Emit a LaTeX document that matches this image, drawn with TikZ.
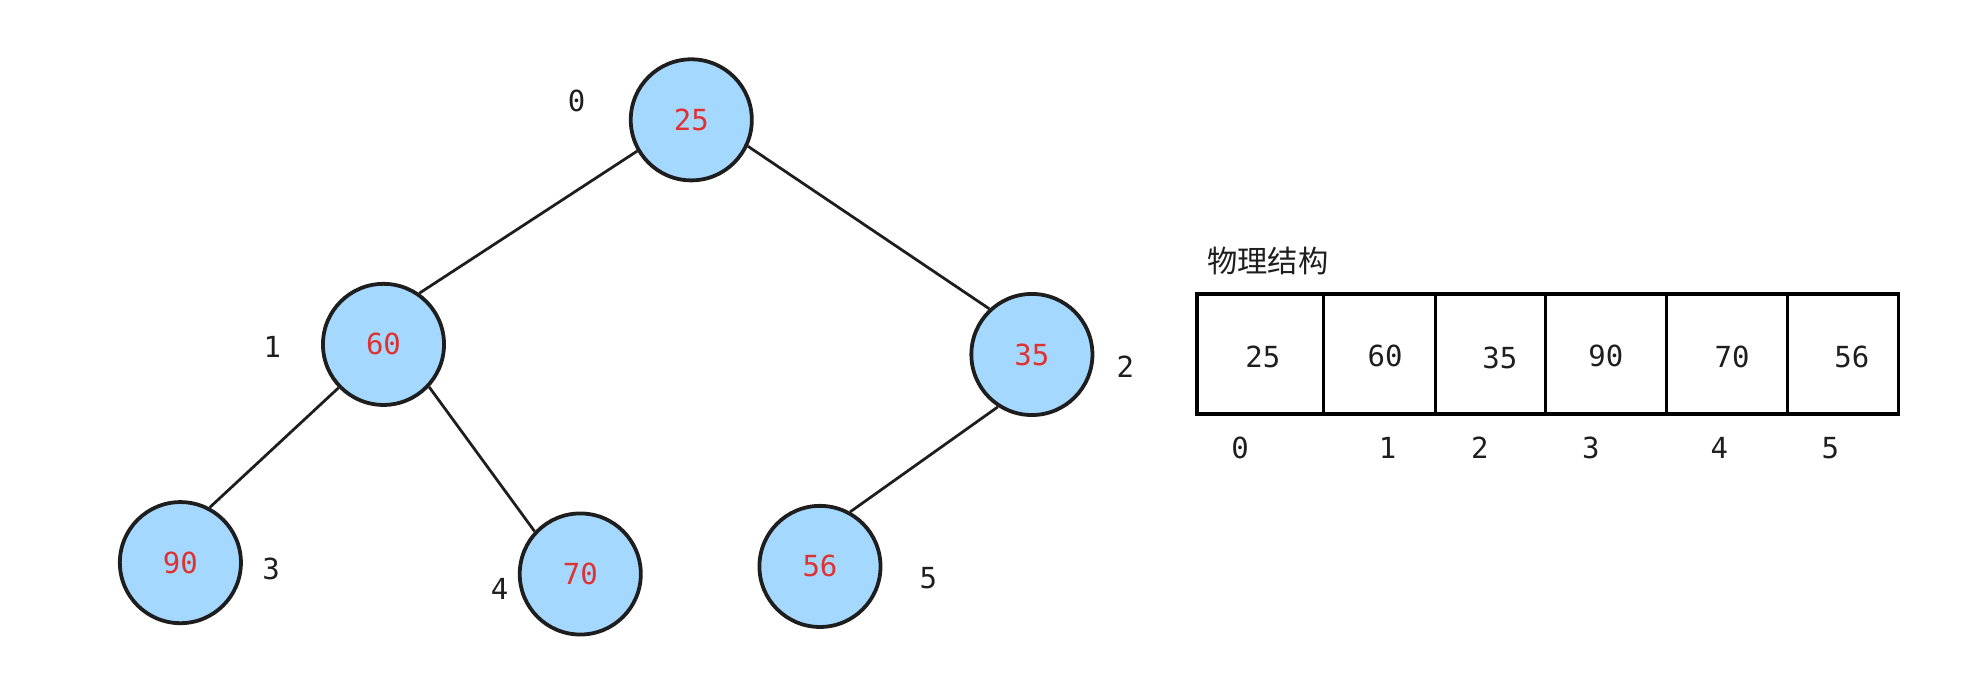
\documentclass[tikz,border=0pt]{standalone}
\usepackage{fontspec}
\setmonofont{DejaVu Sans Mono}
\newfontfamily\cjk{Noto Sans CJK SC}
\definecolor{fillblue}{HTML}{A5D8FF}
\definecolor{stroke}{HTML}{1E1E1E}
\definecolor{numred}{HTML}{E03131}
\begin{document}
\begin{tikzpicture}[x=0.5pt,y=-0.5pt,
  heapnode/.style={circle,draw=stroke,fill=fillblue,line width=1.5pt,minimum size=48pt,inner sep=0pt,
    text=numred,font=\ttfamily\fontsize{11.5}{13}\selectfont},
  idx/.style={text=stroke,font=\ttfamily\fontsize{11.5}{13}\selectfont,inner sep=0pt},
  edge/.style={draw=stroke,line width=1.1pt},
  cell/.style={text=stroke,font=\ttfamily\fontsize{11.5}{13}\selectfont,inner sep=0pt}]
\useasboundingbox (0,0) rectangle (1568,553);
% tree nodes
\node[heapnode] (n0) at (548,95) {25};
\node[heapnode] (n1) at (304,273) {60};
\node[heapnode] (n2) at (818,281) {35};
\node[heapnode] (n3) at (143,446) {90};
\node[heapnode] (n4) at (460,455) {70};
\node[heapnode] (n5) at (650,449) {56};
% edges
\draw[edge] (n0.210) -- (n1.55);
\draw[edge] (n0.-25) -- (n2.133);
\draw[edge] (n1.224) -- (n3.62);
\draw[edge] (n1.-43) -- (n4.137);
\draw[edge] (n2.237) -- (n5.61);
% index labels
\node[idx] (l0) at (457,80) {0};
\node[idx] (l1) at (216,275) {1};
\node[idx] (l2) at (892,291) {2};
\node[idx] (l3) at (215,451) {3};
\node[idx] (l4) at (396,467) {4};
\node[idx] (l5) at (736,458) {5};
% array
\node[text=stroke,font=\cjk\fontsize{12}{14}\selectfont,inner sep=0pt] (title) at (1005,207) {物理结构};
\coordinate (bl) at (949,233);
\coordinate (br) at (1505,328);
\draw[stroke,line width=1.4pt] (bl) rectangle (br);
\foreach \xx in {1049,1138,1225,1321,1417}{
  \draw[stroke,line width=1.2pt] (\xx,233) -- (\xx,328);
}
\node[cell] (c0) at (1001,283) {25};
\node[cell] (c1) at (1098,282) {60};
\node[cell] (c2) at (1189,284) {35};
\node[cell] (c3) at (1273,282) {90};
\node[cell] (c4) at (1373,283) {70};
\node[cell] (c5) at (1468,283) {56};
\node[idx] (a0) at (983,355) {0};
\node[idx] (a1) at (1100,355) {1};
\node[idx] (a2) at (1173,355) {2};
\node[idx] (a3) at (1261,355) {3};
\node[idx] (a4) at (1363,355) {4};
\node[idx] (a5) at (1451,355) {5};
\end{tikzpicture}
\end{document}
